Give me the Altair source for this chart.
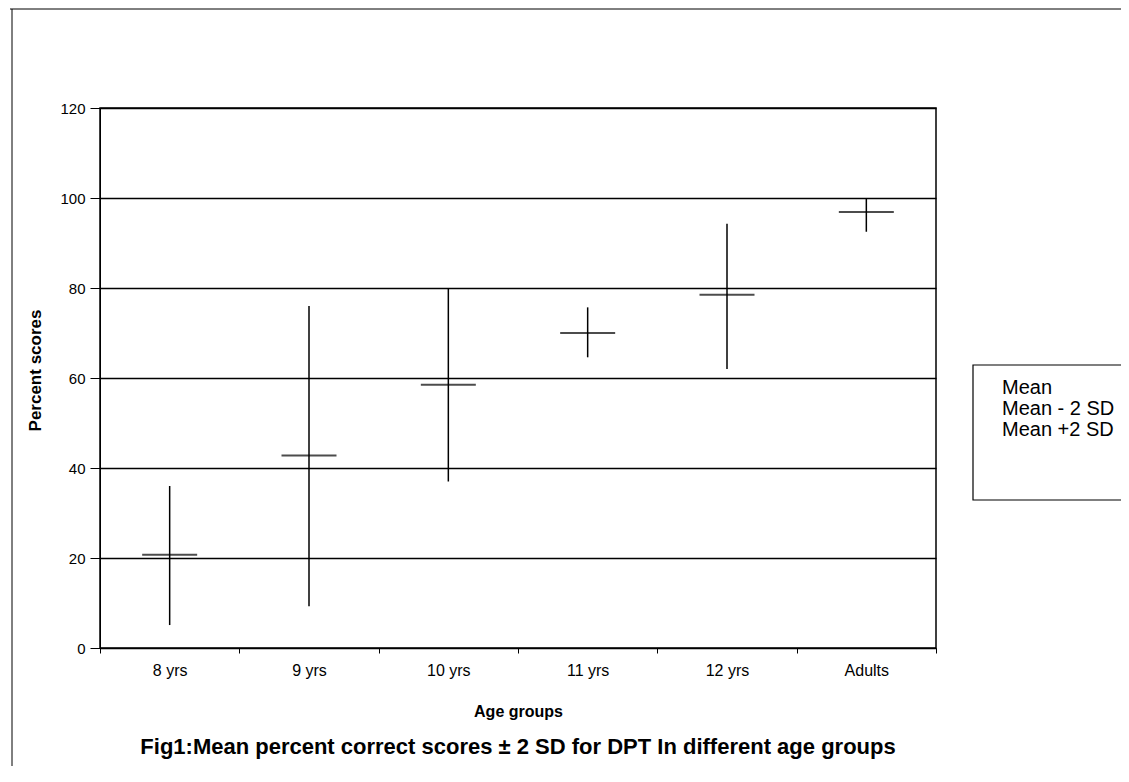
import altair as alt
import pandas as pd

ages = ["8 yrs", "9 yrs", "10 yrs", "11 yrs", "12 yrs", "Adults"]
mean = [20.7, 42.8, 58.5, 70.0, 78.5, 96.9]
low = [5.1, 9.3, 37.0, 64.6, 62.0, 92.5]
high = [36.0, 76.0, 80.0, 75.7, 94.3, 100.0]
series_names = ["Mean", "Mean - 2 SD", "Mean +2 SD"]
y_ticks = [0, 20, 40, 60, 80, 100, 120]

df = pd.DataFrame({"age": ages, "Mean": mean, "Mean - 2 SD": low, "Mean +2 SD": high})

FONT = "Liberation Sans"
W, H = 836, 540

x_enc = alt.X(
    "age:N", sort=ages, title="Age groups",
    scale=alt.Scale(paddingInner=0, paddingOuter=0),
    axis=alt.Axis(labelAngle=0, tickBand="extent", tickSize=5, labelPadding=9,
                  labelFontSize=16, titleFontSize=16, titleFontWeight="bold",
                  titlePadding=25, domainColor="black", tickColor="black",
                  labelColor="black", titleColor="black", grid=False),
)
y_scale = alt.Scale(domain=[0, 120], nice=False)
y_axis = alt.Axis(values=y_ticks, tickSize=10, labelPadding=5, labelFontSize=15,
                  titleFontSize=17, titleFontWeight="bold", titlePadding=15, titleY=262,
                  grid=True, gridColor="black", gridWidth=1.5, domainColor="black",
                  tickColor="black", labelColor="black", titleColor="black")

base = alt.Chart(df)

bars = base.mark_rule(color="black", strokeWidth=1.5).encode(
    x=x_enc,
    y=alt.Y("Mean - 2 SD:Q", scale=y_scale, axis=y_axis, title="Percent scores"),
    y2="Mean +2 SD:Q",
)

ticks = base.mark_tick(color="black", thickness=2, size=55).encode(
    x=alt.X("age:N", sort=ages),
    y=alt.Y("Mean:Q", scale=y_scale),
)

legend_layer = base.transform_fold(series_names, as_=["series", "value"]).mark_point(
    opacity=0
).encode(
    x=alt.X("age:N", sort=ages),
    y=alt.Y("value:Q", scale=y_scale),
    color=alt.Color(
        "series:N",
        scale=alt.Scale(domain=series_names, range=["black", "black", "black"]),
        legend=alt.Legend(title=None, orient="none", legendX=882, legendY=270,
                          symbolOpacity=0, symbolSize=0, symbolStrokeWidth=0,
                          labelOffset=0, labelFontSize=20, labelColor="black",
                          rowPadding=1, padding=0, labelLimit=300),
    ),
)

one = pd.DataFrame({"k": [0]})
legend_box = alt.Chart(one).mark_rect(
    fill=None, stroke="black", strokeWidth=1.2
).encode(x=alt.value(873), x2=alt.value(1040), y=alt.value(257), y2=alt.value(392))

frame_top = alt.Chart(one).mark_rule(color="black", strokeWidth=1).encode(
    x=alt.value(-90), x2=alt.value(1030), y=alt.value(-99)
)
frame_left = alt.Chart(one).mark_rule(color="black", strokeWidth=1).encode(
    x=alt.value(-88), y=alt.value(-99), y2=alt.value(658)
)

chart = alt.layer(bars, ticks, legend_layer, legend_box, frame_top, frame_left).properties(
    width=W, height=H,
    autosize=alt.AutoSizeParams(type="none"),
    padding={"left": 92, "top": 100, "right": 185, "bottom": 126},
    title=alt.TitleParams(
        "Fig1:Mean percent correct scores ± 2 SD for DPT In different age groups",
        orient="bottom", anchor="middle", fontSize=22, fontWeight="bold",
        font=FONT, color="black", offset=0, dy=-30,
    ),
).configure(font=FONT).configure_view(stroke="black", strokeWidth=1.5).configure_axis(
    labelFont=FONT, titleFont=FONT
).configure_legend(labelFont=FONT)

chart.save("out.html", embed_options={"renderer": "svg", "actions": False})
